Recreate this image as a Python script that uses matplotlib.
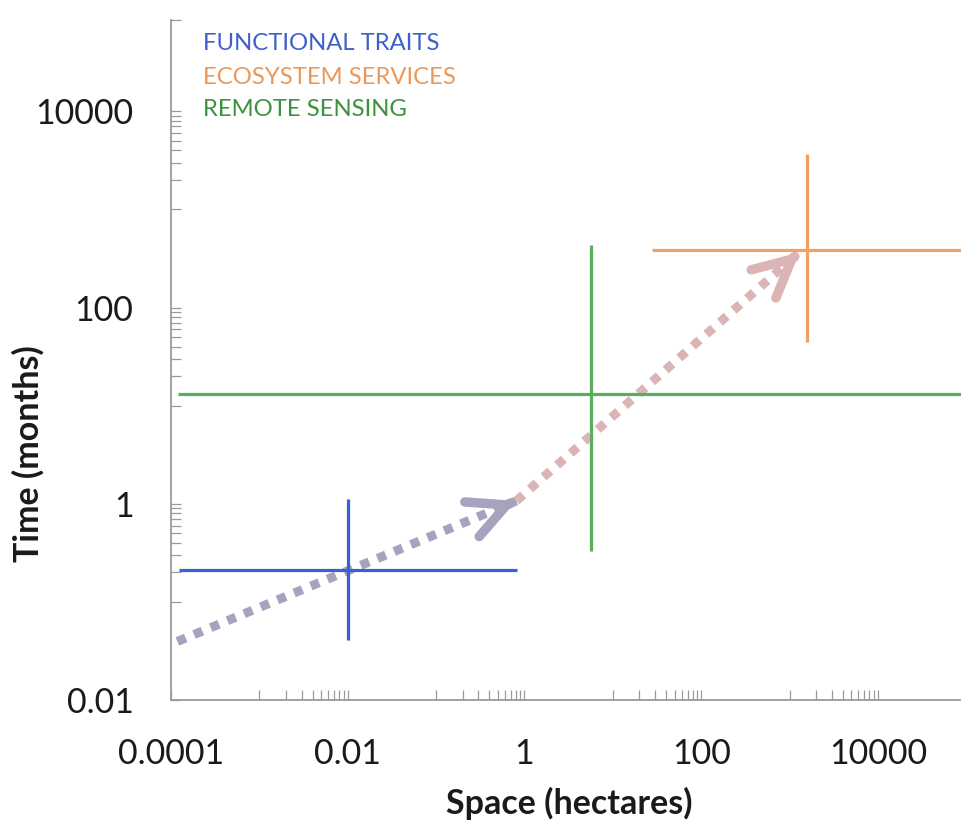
import matplotlib
matplotlib.use("Agg")
import matplotlib.pyplot as plt
import numpy as np

# ---- data ----
categories = ["FUNCTIONAL TRAITS", "ECOSYSTEM SERVICES", "REMOTE SENSING"]
colors = ["#3a5fd6", "#f2a061", "#5aae5e"]
text_colors = ["#3f5fcc", "#ea995c", "#3f913f"]

# cross centres (space, time)
center_space = [0.01, 1560, 5.6]
center_time = [0.21, 390, 13.2]
# horizontal extents (space)
space_low = [1.24e-4, 28, 1.2e-4]
space_high = [0.83, 1e5, 1e5]
# vertical extents (time)
time_low = [0.041, 44, 0.33]
time_high = [1.12, 3700, 430]

# trend arrows: start and end points (space, time)
arrow_start_space = [1.18e-4, 0.81]
arrow_start_time = [0.0395, 1.07]
arrow_end_space = [0.81, 1300]
arrow_end_time = [1.07, 366]
arrow_colors = ["#a7a2bd", "#dbb5b5"]

space_ticks = [1e-4, 1e-2, 1, 100, 1e4]
space_ticklabels = ["0.0001", "0.01", "1", "100", "10000"]
time_ticks = [1e-2, 1, 100, 1e4]
time_ticklabels = ["0.01", "1", "100", "10000"]

FONT = ["Lato", "DejaVu Sans"]
plt.rcParams["font.family"] = FONT

W, H = 961, 824
fig = plt.figure(figsize=(W / 100, H / 100), dpi=100)
ax = fig.add_axes([171 / W, 1 - 700 / H, 1 - 171 / W, (700 - 20) / H])
ax.set_xscale("log")
ax.set_yscale("log")
ax.set_xlim(1e-4, 10 ** 4.94)
ax.set_ylim(1e-2, 10 ** 4.93)

# crosses
for i in range(len(categories)):
    ax.plot([space_low[i], space_high[i]], [center_time[i], center_time[i]],
            color=colors[i], lw=2.3, solid_capstyle="butt", zorder=3)
    ax.plot([center_space[i], center_space[i]], [time_low[i], time_high[i]],
            color=colors[i], lw=2.3, solid_capstyle="butt", zorder=3)

# arrows
for i in range(len(arrow_colors)):
    s = (arrow_start_space[i], arrow_start_time[i])
    e = (arrow_end_space[i], arrow_end_time[i])
    ax.annotate("", xy=e, xytext=s, zorder=2,
                arrowprops=dict(arrowstyle="-", color=arrow_colors[i], lw=6.5,
                                linestyle=(0, (1, 1)), shrinkA=0, shrinkB=0,
                                capstyle="butt"))
    # tiny segment for the arrow head direction (in log space)
    ls = np.log10(s)
    le = np.log10(e)
    near = 10 ** (le - (le - ls) * 0.02)
    ax.annotate("", xy=e, xytext=tuple(near), zorder=4,
                arrowprops=dict(arrowstyle="->,head_length=27,head_width=13.5",
                                mutation_scale=1, color=arrow_colors[i], lw=6.8,
                                shrinkA=0, shrinkB=0, capstyle="round",
                                joinstyle="round"))

# axes styling
for side in ["top", "right"]:
    ax.spines[side].set_visible(False)
for side in ["left", "bottom"]:
    ax.spines[side].set_color("#9a9a9a")
    ax.spines[side].set_linewidth(1.3)

ax.set_xticks(space_ticks)
ax.set_xticklabels(space_ticklabels)
ax.set_yticks(time_ticks)
ax.set_yticklabels(time_ticklabels)

minor_x = [k * 10.0 ** e for e in [-3, -1, 1, 3] for k in range(1, 10)]
minor_y = [k * 10.0 ** e for e in [-1, 1, 3] for k in range(1, 10)] + [10 ** 4.93]
ax.set_xticks(minor_x, minor=True)
ax.set_yticks(minor_y, minor=True)
ax.xaxis.set_minor_formatter(matplotlib.ticker.NullFormatter())
ax.yaxis.set_minor_formatter(matplotlib.ticker.NullFormatter())

ax.tick_params(which="both", direction="in", length=7.5, width=0.9, color="#9a9a9a")
ax.tick_params(which="major", labelsize=24.5, labelcolor="#1a1a1a", pad=27)

fig.text(28 / W, 1 - 454 / H, "Time (months)", rotation=90, ha="center", va="center",
         fontsize=24.5, fontweight="bold", color="#1a1a1a")
fig.text(569 / W, 1 - 803 / H, "Space (hectares)", ha="center", va="center",
         fontsize=24.5, fontweight="bold", color="#1a1a1a")

for i, name in enumerate(categories):
    fig.text(203 / W, 1 - (44 + 33 * i) / H, name, ha="left", va="center",
             fontsize=17.2, color=text_colors[i])

fig.savefig("out.png", dpi=100)
